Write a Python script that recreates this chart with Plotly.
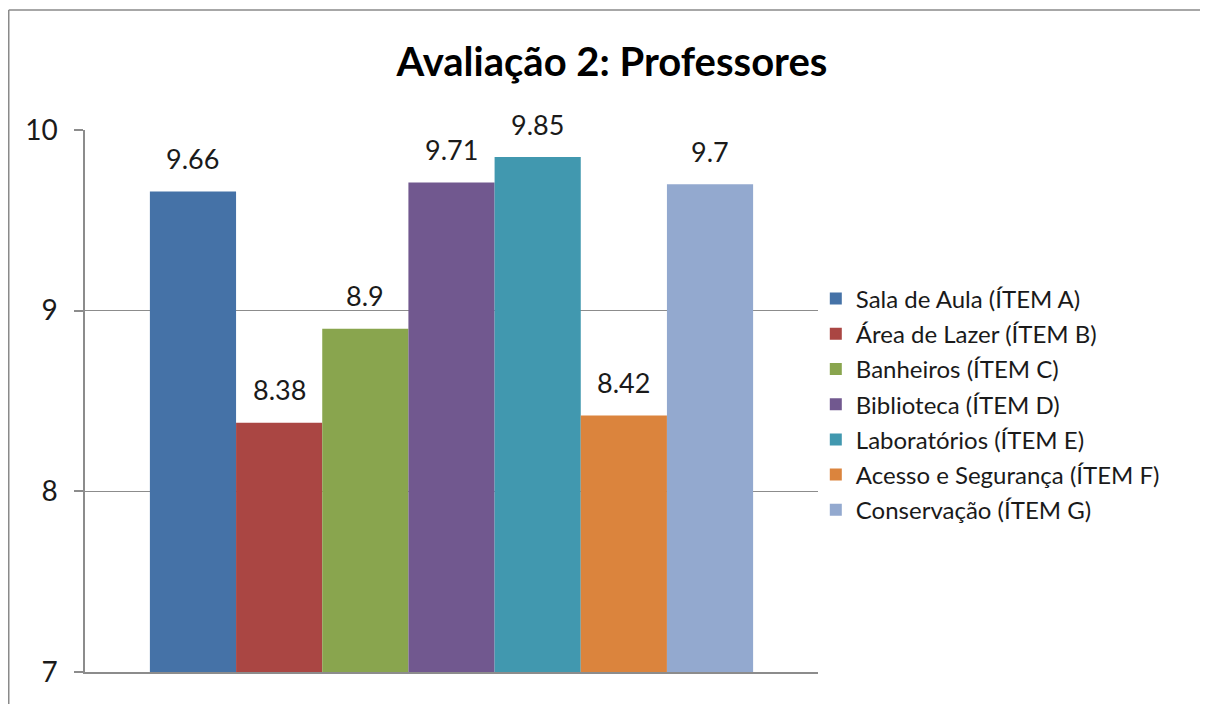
import plotly.graph_objects as go

title = "Avaliação 2: Professores"
series_names = [
    "Sala de Aula (ÍTEM A)",
    "Área de Lazer (ÍTEM B)",
    "Banheiros (ÍTEM C)",
    "Biblioteca (ÍTEM D)",
    "Laboratórios (ÍTEM E)",
    "Acesso e Segurança (ÍTEM F)",
    "Conservação (ÍTEM G)",
]
values = [9.66, 8.38, 8.9, 9.71, 9.85, 8.42, 9.7]
value_labels = ["9.66", "8.38", "8.9", "9.71", "9.85", "8.42", "9.7"]
colors = ["#4572A7", "#AA4643", "#89A54E", "#71588F", "#4198AF", "#DB843D", "#93A9CF"]
y_ticks = [7, 8, 9, 10]

FONT = "Lato"
GRID = "#8c8c8c"
W, H = 1200, 696
L, T, PW, PH = 77, 122, 733, 542

fig = go.Figure()
for i, (name, v, c) in enumerate(zip(series_names, values, colors)):
    fig.add_trace(go.Bar(
        x=[i], y=[v], name=name, width=1.0,
        marker=dict(color=c, line=dict(width=0)),
        legendgroup=name,
        hoverinfo="skip",
    ))
    fig.add_annotation(
        x=i, y=v, text=value_labels[i], showarrow=False,
        xref="x", yref="y", yanchor="middle", yshift=33,
        font=dict(family=FONT, size=27, color="#1a1a1a"),
    )

bx = (0.75 - L) / PW
by = (T + PH - 2) / PH
fig.update_layout(
    width=W, height=H,
    margin=dict(l=L, r=W - L - PW, t=T, b=H - T - PH),
    paper_bgcolor="white", plot_bgcolor="white",
    showlegend=True,
    title=dict(
        text="<b>" + title + "</b>",
        x=604 / W, xref="container", xanchor="center",
        y=1 - 54 / H, yref="container", yanchor="middle",
        font=dict(family=FONT, size=40, color="#000000"),
    ),
    legend=dict(
        x=0.997, xanchor="left", y=0.4935, yanchor="middle",
        font=dict(family=FONT, size=24, color="#1a1a1a"),
        traceorder="grouped", tracegroupgap=1,
        bgcolor="rgba(0,0,0,0)",
    ),
    xaxis=dict(
        range=[-1.253, 7.253], showticklabels=False, showgrid=False,
        zeroline=False, showline=True, linecolor=GRID, linewidth=1.5,
        ticks="", fixedrange=True,
    ),
    yaxis=dict(
        range=[7, 10], tickvals=y_ticks, ticktext=[str(t) for t in y_ticks],
        showgrid=True, gridcolor=GRID, gridwidth=1.3,
        zeroline=False, showline=True, linecolor=GRID, linewidth=1.5,
        ticks="outside", ticklen=9, tickcolor=GRID, tickwidth=1.5,
        ticklabelstandoff=11,
        tickfont=dict(family=FONT, size=28, color="#1a1a1a"),
    ),
    shapes=[
        dict(type="line", xref="paper", yref="paper",
             x0=bx, x1=bx, y0=-0.3, y1=by,
             line=dict(color="#8a8a8a", width=1.5), layer="below"),
        dict(type="line", xref="paper", yref="paper",
             x0=bx, x1=1.8, y0=by, y1=by,
             line=dict(color="#8a8a8a", width=1.5), layer="below"),
    ],
)

fig.write_html("out.html")
